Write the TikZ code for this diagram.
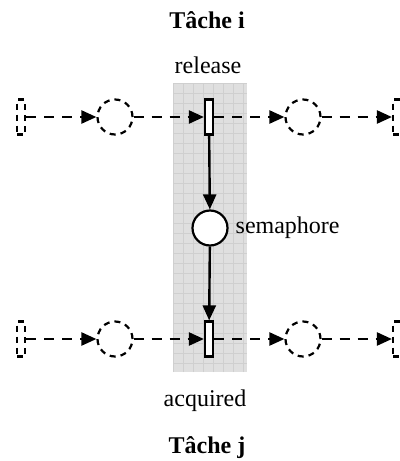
\documentclass[tikz,border=0pt]{standalone}
\usepackage{fontspec}
\setmainfont{Liberation Serif}
\usetikzlibrary{arrows.meta}
\begin{document}
\begin{tikzpicture}[x=0.5pt,y=-0.5pt,
    font=\fontsize{12}{14}\selectfont,
    title/.style={font=\fontsize{12}{14}\selectfont\bfseries},
    place/.style={circle,draw,line width=1.1pt,fill=white,minimum size=17.5pt,inner sep=0pt},
    trans/.style={rectangle,draw,line width=1.1pt,fill=white,minimum width=4pt,minimum height=17.5pt,inner sep=0pt},
    ghost/.style={dash pattern=on 3pt off 2.5pt},
    arc/.style={line width=1.2pt,-{Triangle[length=7.5pt,width=6.5pt]}}]
        \useasboundingbox (0,0) rectangle (400,461);
        \fill[gray!25] (173,83) rectangle (247,372);
        \draw[gray!38,line width=0.3pt,shift={(173,83)}] (0,0) grid[step=5pt] (74,289);

        \node[title] (ti) at (207,20) {Tâche i};
        \node (rel) at (208,65) {release};

        \node[trans,ghost] (a1) at (21,117) {};
        \node[place,ghost] (a2) at (115,117) {};
        \node[trans] (a3) at (209,117) {};
        \node[place,ghost] (a4) at (303,117) {};
        \node[trans,ghost] (a5) at (397,117) {};

        \node[place] (sem) at (210,228) {};
        \node[anchor=west] (semlab) at (sem.east) {semaphore};

        \node[trans,ghost] (b1) at (21,339) {};
        \node[place,ghost] (b2) at (115,339) {};
        \node[trans] (b3) at (209,339) {};
        \node[place,ghost] (b4) at (303,339) {};
        \node[trans,ghost] (b5) at (397,339) {};

        \node (acq) at (205,401) {acquired};
        \node[title] (tj) at (207,448) {Tâche j};

        \foreach \from / \to in {a1/a2,a2/a3,a3/a4,a4/a5,b1/b2,b2/b3,b3/b4,b4/b5}
            \draw[arc,dash pattern=on 5pt off 4pt] (\from) -- (\to);
        \foreach \from / \to in {a3/sem,sem/b3}
            \draw[arc] (\from) -- (\to);
    \end{tikzpicture}
\end{document}
